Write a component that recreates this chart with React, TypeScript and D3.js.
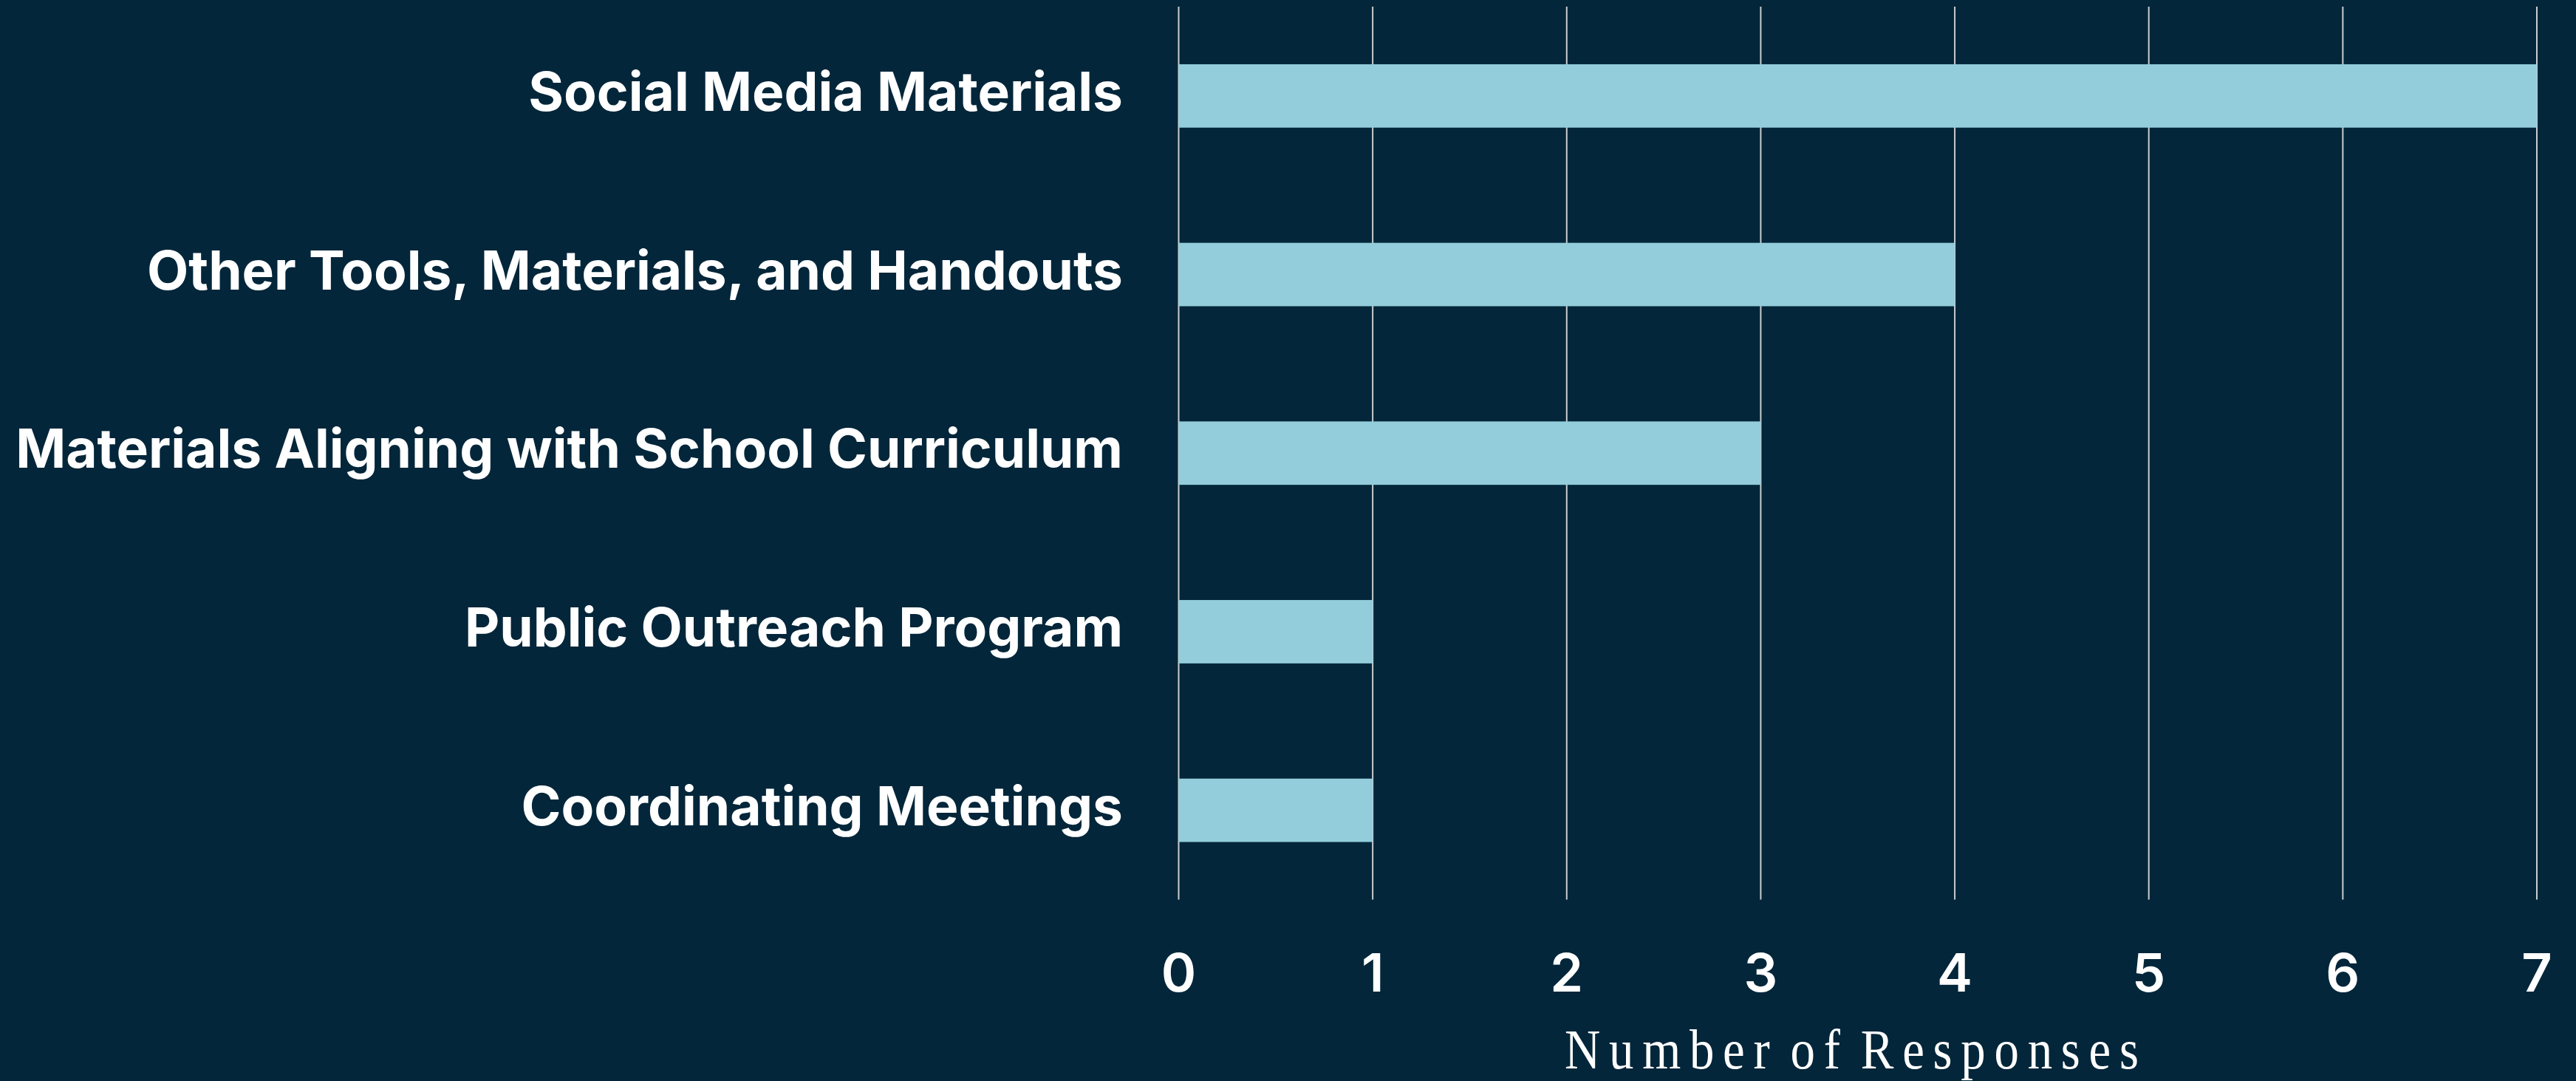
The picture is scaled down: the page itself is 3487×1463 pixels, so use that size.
import React from "react";
import * as d3 from "d3";

const categories = [
  "Social Media Materials",
  "Other Tools, Materials, and Handouts",
  "Materials Aligning with School Curriculum",
  "Public Outreach Program",
  "Coordinating Meetings",
];
const values = [7, 4, 3, 1, 1];
const xTicks = [0, 1, 2, 3, 4, 5, 6, 7];
const xTitle = "Number of Responses";

const W = 3487;
const H = 1463;
const BG = "#03263A";
const BAR = "#93CDDB";
const GRID = "#c9cdd0";

export default function App() {
  const x = d3.scaleLinear().domain([0, 7]).range([1595.5, 3434]);
  const y = d3
    .scaleBand<string>()
    .domain(categories)
    .range([9, 1217.5])
    .paddingInner(0.645)
    .paddingOuter(0.3225);

  const labelFont = "Inter, 'Noto Sans', sans-serif";
  const titleCx = 2506.5;
  const sx = 0.88;

  return (
    <svg
      width={W}
      height={H}
      style={{ position: "absolute", left: 0, top: 0, display: "block" }}
    >
      <rect x={0} y={0} width={W} height={H} fill={BG} />
      {xTicks.map((t) => (
        <line
          key={"g" + t}
          x1={x(t)}
          x2={x(t)}
          y1={9}
          y2={1217.5}
          stroke={GRID}
          strokeWidth={2}
        />
      ))}
      {categories.map((c, i) => (
        <rect
          key={"b" + c}
          x={x(0)}
          y={y(c)}
          width={x(values[i]) - x(0)}
          height={y.bandwidth()}
          fill={BAR}
        />
      ))}
      {categories.map((c) => (
        <text
          key={"l" + c}
          x={1520}
          y={(y(c) as number) + y.bandwidth() / 2 + 20}
          textAnchor="end"
          fill="#ffffff"
          fontFamily={labelFont}
          fontWeight={650}
          fontSize={73}
        >
          {c}
        </text>
      ))}
      {xTicks.map((t) => (
        <text
          key={"t" + t}
          x={x(t)}
          y={1341.5}
          textAnchor="middle"
          fill="#ffffff"
          fontFamily={labelFont}
          fontWeight={560}
          fontSize={72}
        >
          {t}
        </text>
      ))}
      <g transform={`translate(${titleCx},0) scale(${sx},1)`}>
        <text
          x={0}
          y={1446.5}
          textAnchor="middle"
          fill="#ffffff"
          fontFamily="'Liberation Serif', 'DejaVu Serif', serif"
          fontSize={76}
          wordSpacing={-14}
          textLength={777 / sx}
          lengthAdjust="spacing"
        >
          {xTitle}
        </text>
      </g>
    </svg>
  );
}
